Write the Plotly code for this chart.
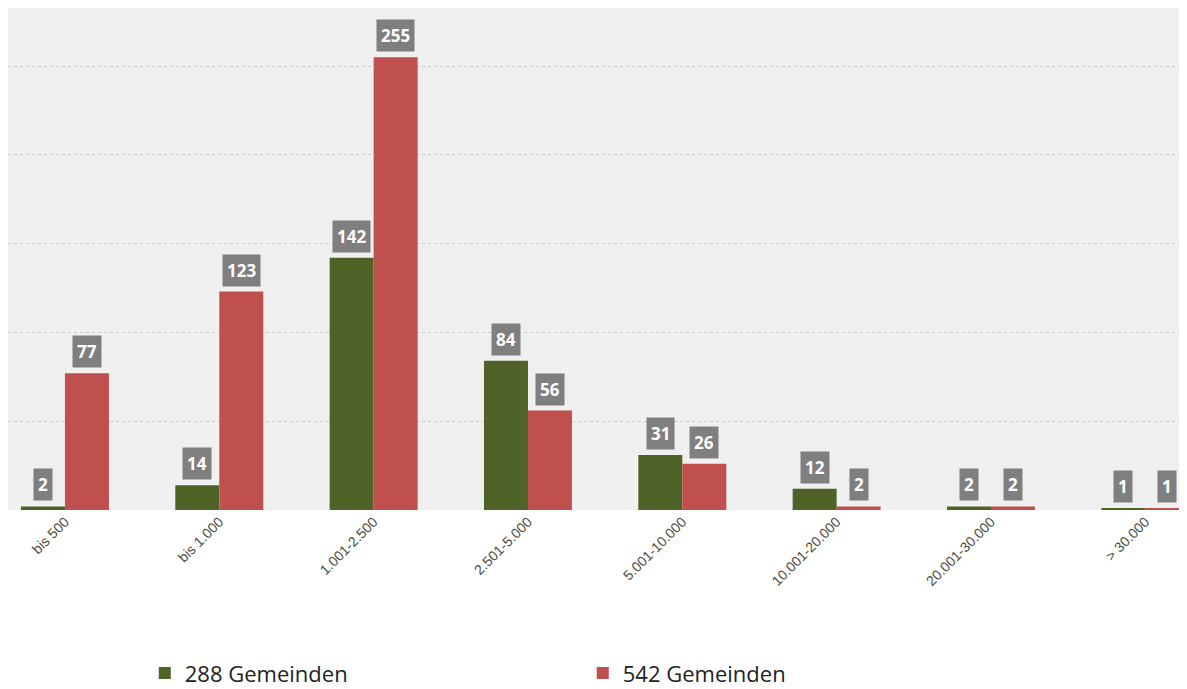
import plotly.graph_objects as go

categories = ["bis 500", "bis 1.000", "1.001-2.500", "2.501-5.000",
              "5.001-10.000", "10.001-20.000", "20.001-30.000", "> 30.000"]
series_names = ["288 Gemeinden", "542 Gemeinden"]
values_green = [2, 14, 142, 84, 31, 12, 2, 1]
values_red = [77, 123, 255, 56, 26, 2, 2, 1]
grid_vals = [0, 50, 100, 150, 200, 250]

colors = ["#4f6228", "#c0504d"]

fig = go.Figure()
for name, vals, col in zip(series_names, [values_green, values_red], colors):
    fig.add_trace(go.Bar(x=categories, y=vals, name=name, marker_color=col,
                         marker_line_width=0))

annotations = []
for vals, shift in [(values_green, -22), (values_red, 22)]:
    for c, v in zip(categories, vals):
        annotations.append(dict(
            x=c, y=v, xref="x", yref="y", text="<b>%d</b>" % v, showarrow=False,
            xshift=shift, yshift=5, yanchor="bottom",
            font=dict(family="Open Sans", size=17, color="white"),
            bgcolor="#7f7f7f", borderpad=4))

fig.update_layout(
    width=1179, height=694,
    margin=dict(l=0, r=0, t=0, b=192),
    paper_bgcolor="white", plot_bgcolor="#f0f0f0",
    barmode="group", bargap=0.43, bargroupgap=0,
    annotations=annotations,
    showlegend=True,
    legend=dict(orientation="h", x=0.116, y=-0.325, xanchor="left", yanchor="middle",
                font=dict(family="Open Sans", size=22, color="#222222"),
                entrywidth=393, entrywidthmode="pixels", itemsizing="constant"),
    xaxis=dict(type="category", range=[-0.369, 7.27], tickangle=-45,
               tickfont=dict(family="Liberation Sans", size=14, color="#4a4a3c"),
               showgrid=False, showline=False, ticks=""),
    yaxis=dict(range=[0, 282.7], tickvals=grid_vals, showticklabels=False,
               showgrid=True, gridcolor="#c8c8c8", griddash="dot", gridwidth=1,
               zeroline=False, showline=False),
)

fig.write_html("out.html")
